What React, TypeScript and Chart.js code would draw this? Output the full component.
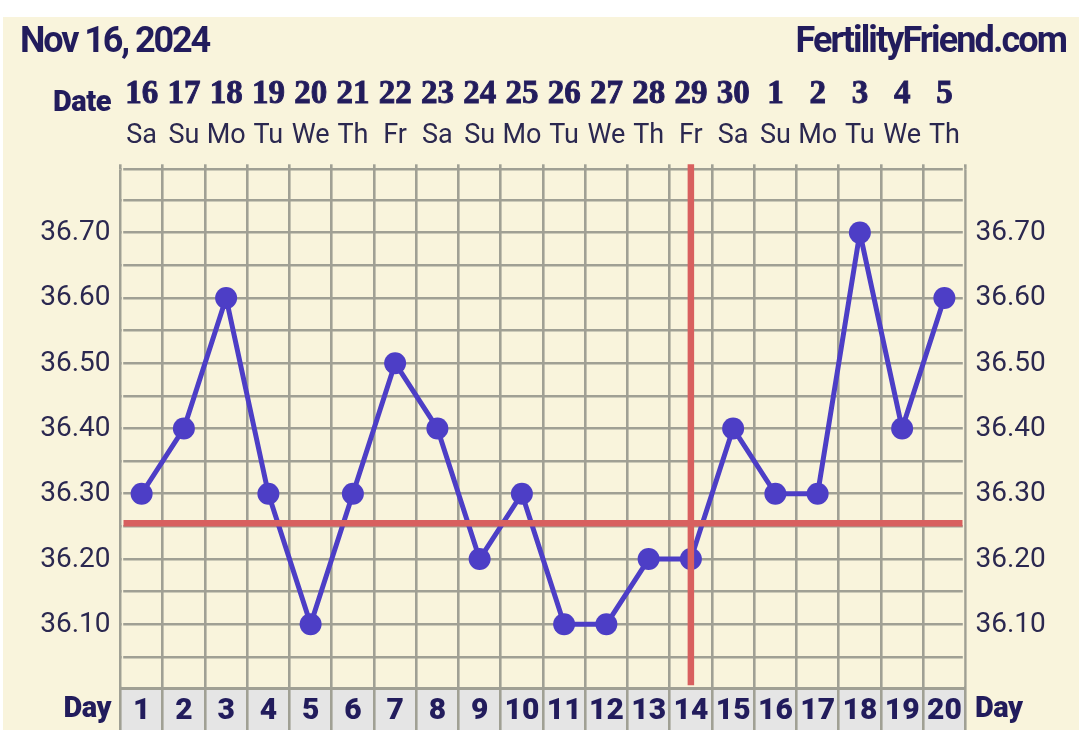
import React, { useEffect, useRef } from "react";
import { Chart, registerables } from "chart.js";

Chart.register(...registerables);

const days = ["1","2","3","4","5","6","7","8","9","10","11","12","13","14","15","16","17","18","19","20"];
const dates = ["16","17","18","19","20","21","22","23","24","25","26","27","28","29","30","1","2","3","4","5"];
const weekdays = ["Sa","Su","Mo","Tu","We","Th","Fr","Sa","Su","Mo","Tu","We","Th","Fr","Sa","Su","Mo","Tu","We","Th"];
const temps = [36.3,36.4,36.6,36.3,36.1,36.3,36.5,36.4,36.2,36.3,36.1,36.1,36.2,36.2,36.4,36.3,36.3,36.7,36.4,36.6];
const gridTicks = [36.002,36.05,36.1,36.15,36.2,36.25,36.3,36.35,36.4,36.45,36.5,36.55,36.6,36.65,36.7,36.75,36.797];
const coverline = 36.255;
const ovulationDay = "14";
const yMin = 36.002;
const yMax = 36.797;

const CREAM = "#f9f4dc";
const GRID = "#a0a094";
const NAVY = "#221c5c";
const TEXT = "#2b2850";
const RED = "#d8605f";
const PURPLE = "#4d3ec6";
const STRIP = "#e5e5e5";

const chrome = {
  id: "chrome",
  beforeDraw(chart: any) {
    const { ctx, chartArea: a } = chart;
    ctx.save();
    ctx.fillStyle = "#ffffff";
    ctx.fillRect(0, 0, 1079, 730);
    ctx.fillStyle = CREAM;
    ctx.fillRect(3, 17, 1076, 713);
    ctx.fillStyle = STRIP;
    ctx.fillRect(a.left, a.bottom, a.right - a.left, 730 - a.bottom);
    ctx.restore();
  },
  beforeDatasetsDraw(chart: any) {
    const { ctx, chartArea: a } = chart;
    ctx.save();
    ctx.fillStyle = CREAM;
    ctx.fillRect(a.left + 1.3, a.top - 2, 1.4, a.bottom - a.top);
    ctx.fillRect(a.right - 2.7, a.top - 2, 1.4, a.bottom - a.top);
    ctx.restore();
  },
  afterDatasetsDraw(chart: any) {
    const { ctx, chartArea: a, scales } = chart;
    ctx.save();
    ctx.strokeStyle = RED;
    ctx.lineWidth = 6.5;
    const y = scales.y.getPixelForValue(coverline);
    ctx.beginPath();
    ctx.moveTo(a.left + 3, y);
    ctx.lineTo(a.right - 3, y);
    ctx.stroke();
    const x = scales.x.getPixelForValue(days.indexOf(ovulationDay));
    ctx.beginPath();
    ctx.moveTo(x, a.top - 5);
    ctx.lineTo(x, a.bottom - 3);
    ctx.stroke();
    ctx.restore();
  },
  afterDraw(chart: any) {
    const { ctx } = chart;
    ctx.save();
    ctx.fillStyle = NAVY;
    ctx.textBaseline = "alphabetic";
    ctx.textAlign = "left";
    ctx.font = "700 36px Roboto";
    ctx.letterSpacing = "-2.1px";
    ctx.fillText("Nov 16, 2024", 20, 52);
    ctx.textAlign = "right";
    ctx.letterSpacing = "-1.9px";
    ctx.fillText("FertilityFriend.com", 1066, 52);
    ctx.letterSpacing = "-0.5px";
    ctx.font = "900 29px Roboto";
    ctx.fillText("Date", 111, 111);
    ctx.fillText("Day", 111, 717);
    ctx.textAlign = "left";
    ctx.fillText("Day", 975, 717);
    ctx.restore();
  },
};

export default function App() {
  const ref = useRef<HTMLCanvasElement>(null);
  useEffect(() => {
    document.body.style.margin = "0";
    const gridColor = GRID;
    const chart = new Chart(ref.current!, {
      type: "line",
      data: {
        labels: days,
        datasets: [
          {
            data: temps,
            xAxisID: "x",
            yAxisID: "y",
            borderColor: PURPLE,
            backgroundColor: PURPLE,
            borderWidth: 5,
            borderJoinStyle: "round",
            pointRadius: 11,
            pointBackgroundColor: PURPLE,
            pointBorderWidth: 0,
            tension: 0,
          },
        ],
      },
      options: {
        animation: false,
        responsive: false,
        layout: { padding: 0 },
        plugins: { legend: { display: false }, tooltip: { enabled: false }, title: { display: false } },
        scales: {
          x: {
            type: "category",
            position: "bottom",
            offset: true,
            afterFit: (s: any) => { s.height = 730 - 688.3; },
            grid: { offset: true, color: gridColor, lineWidth: 2.6, tickLength: 42, drawTicks: true },
            border: { display: true, color: gridColor, width: 3 },
            ticks: {
              autoSkip: false, maxRotation: 0, padding: -37,
              color: NAVY, font: { family: "Roboto", weight: "900", size: 30 },
            },
          },
          week: {
            type: "category",
            position: "top",
            labels: weekdays,
            offset: true,
            afterFit: (s: any) => { s.height = 50; },
            grid: { offset: true, drawOnChartArea: false, color: gridColor, lineWidth: 2.6, tickLength: 5 },
            border: { display: false },
            ticks: {
              autoSkip: false, maxRotation: 0, padding: 12,
              color: TEXT, font: { family: "Roboto", weight: "400", size: 27 },
            },
          },
          date: {
            type: "category",
            position: "top",
            labels: dates,
            offset: true,
            afterFit: (s: any) => { s.height = 119.3; },
            grid: { display: false },
            border: { display: false },
            ticks: {
              autoSkip: false, maxRotation: 0, padding: -3,
              color: NAVY, font: { family: "Liberation Serif", weight: "700", size: 33 },
              textStrokeColor: NAVY, textStrokeWidth: 0.9,
            },
          },
          y: {
            type: "linear",
            position: "left",
            min: yMin,
            max: yMax,
            afterFit: (s: any) => { s.width = 120.5; },
            afterBuildTicks: (s: any) => { s.ticks = gridTicks.map((value) => ({ value })); },
            grid: { color: gridColor, lineWidth: 2.6, drawTicks: false },
            border: { display: false },
            ticks: {
              autoSkip: false, padding: 10, labelOffset: 0.5,
              color: TEXT, font: { family: "Roboto", size: 28 },
              callback: (v: any) => (Math.abs(v * 10 - Math.round(v * 10)) < 0.001 ? Number(v).toFixed(2) : ""),
            },
          },
          y2: {
            type: "linear",
            position: "right",
            min: yMin,
            max: yMax,
            afterFit: (s: any) => { s.width = 113.5; },
            afterBuildTicks: (s: any) => { s.ticks = gridTicks.map((value) => ({ value })); },
            grid: { display: false, drawTicks: false },
            border: { display: false },
            ticks: {
              autoSkip: false, padding: 10, labelOffset: 0.5,
              color: TEXT, font: { family: "Roboto", size: 28 },
              callback: (v: any) => (Math.abs(v * 10 - Math.round(v * 10)) < 0.001 ? Number(v).toFixed(2) : ""),
            },
          },
        },
      },
      plugins: [chrome],
    } as any);
    return () => chart.destroy();
  }, []);
  return <canvas ref={ref} width={1079} height={730} style={{ display: "block" }} />;
}
